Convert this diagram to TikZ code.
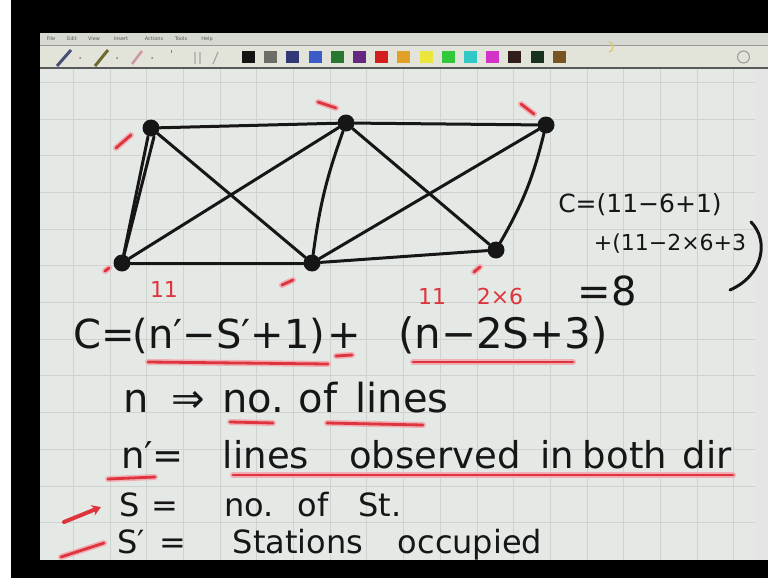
\documentclass[tikz,border=0pt]{standalone}
\usepackage{fontspec}
\setmainfont{DejaVu Sans}
\usetikzlibrary{arrows.meta}
\usetikzlibrary{calc}
\definecolor{ink}{RGB}{22,22,22}
\definecolor{redink}{RGB}{222,52,62}
\definecolor{redglow}{RGB}{240,175,180}
\definecolor{paper}{RGB}{229,233,230}
\definecolor{gridline}{RGB}{206,211,208}
\definecolor{menubar}{RGB}{214,216,210}
\definecolor{toolbar}{RGB}{227,228,217}
\newcommand{\redmark}{\draw[redline]}

\begin{document}
\begin{tikzpicture}[x=1pt, y=-1pt,
    station/.style={circle, fill=ink, inner sep=0pt, minimum size=17pt},
    leg/.style={draw=ink, line width=3pt, line cap=round},
    redline/.style={preaction={draw=redglow, line width=6pt, line cap=round},
                    draw=redink, line width=2.8pt, line cap=round},
    hw/.style={font=\fontsize{40}{40}\selectfont, text=ink, inner sep=0pt, anchor=base},
    hwline/.style={hw, font=\fontsize{37}{37}\selectfont},
    hwsmall/.style={hw, font=\fontsize{32}{32}\selectfont},
    calcnote/.style={hw, font=\fontsize{25}{25}\selectfont},
    rednote/.style={hw, text=redink, font=\fontsize{22}{22}\selectfont}]
    \useasboundingbox (0,0) rectangle (768,578);

    % Screen frame
    \fill[black] (0,0) rectangle (768,578);
    \fill[white] (0,0) rectangle (11,578);
    \fill[menubar] (40,33) rectangle (768,45);
    \fill[toolbar] (40,45) rectangle (768,68);
    \draw[gray!80] (40,45) -- (768,45);
    \draw[gray!70!black, line width=1.5pt] (40,68) -- (768,68);
    \fill[paper] (40,68.8) rectangle (755,560);
    \fill[gray!20] (755,68.8) rectangle (768,560);

    % Menu
    \foreach \x/\t [count=\i] in {51/File, 72/Edit, 94/View, 121/Insert, 154/Actions, 181/Tools, 207/Help}
        \node[font=\fontsize{5}{5}\selectfont, text=gray!70!black, inner sep=0pt, name=menu\i] at (\x,39) {\t};

    % Pens and tools
    \definecolor{penA}{RGB}{70,80,115}
    \definecolor{penB}{RGB}{110,105,45}
    \definecolor{penC}{RGB}{205,150,160}
    \draw[line width=3pt, penA] (57,66) -- (71,50);
    \draw[line width=3pt, penB] (95,66) -- (108,50);
    \draw[line width=2.5pt, penC] (132,64) -- (142,51);
    \foreach \x in {80,117,152}
        \fill[gray] (\x,58) circle (1pt);
    \draw[gray, line width=1pt] (171,50) -- (171,53);
    \draw[gray!70, line width=1.2pt] (195,52) -- (195,64) (200,52) -- (200,64) (213,64) -- (218,52);
    \foreach \r/\g/\b [count=\i from 0] in {20/20/20, 110/110/105, 50/55/120, 60/90/200, 40/120/50,
        100/40/130, 210/30/30, 225/160/40, 235/230/60, 50/200/60, 50/200/200, 210/50/200,
        50/30/25, 25/50/30, 120/85/35} {
        \definecolor{swatch}{RGB}{\r,\g,\b}
        \fill[swatch] ({242+22.2*\i},51) rectangle ++(13,12);
    }
    \definecolor{lasso}{RGB}{215,205,120}
    \draw[lasso, line width=1.5pt] (609,52) arc (90:-90:4 and 5);
    \draw[gray!80, line width=1pt] (743.5,57) circle (6);

    % Draw grid
    \foreach \i in {1,...,19}
        \draw[gridline] ({36.3+36.7*\i},69) -- ({36.3+36.7*\i},560);
    \foreach \j in {0,...,12}
        \draw[gridline] (40,{82+36.7*\j}) -- (755,{82+36.7*\j});

    % Draw stations
    \node[station] (A) at (151,128) {};
    \node[station] (B) at (346,123) {};
    \node[station] (C) at (546,125) {};
    \node[station] (D) at (122,263) {};
    \node[station] (E) at (312,263) {};
    \node[station] (F) at (496,250) {};

    % Draw lines of sight
    \draw[leg] (A) -- (B);
    \draw[leg] (B) -- (C);
    \draw[leg] ([xshift=-3pt]A.south) -- (D);
    \draw[leg] ([xshift=3pt]A.south) -- (D);
    \draw[leg] (A) -- (E);
    \draw[leg] (B) -- (D);
    \draw[leg] (B) to[bend right=6] (E);
    \draw[leg] (B) -- (F);
    \draw[leg] (C) -- (E);
    \draw[leg] (C) to[bend left=8] (F);
    \draw[leg] (D) -- (E);
    \draw[leg] (E) -- (F);

    % Occupied ticks
    \redmark (116,148) -- (131,135);
    \redmark (318,102) -- (336,108);
    \redmark (521,104) -- (534,114);
    \redmark (282,285) -- (293,280);
    \redmark (474,272) -- (480,267);
    \redmark (105,271) -- (109,268);

    % Condition equation
    \node[rednote] (r1) at (164,297) {11};
    \node[rednote] (r2) at (432,304) {11};
    \node[rednote] (r3) at (500,304) {2×6};
    \node[hw] (eqa) at (104,348) {C=};
    \node[hw] (eqb) at (229,348) {(n′−S′+1)};
    \node[hw] (eqc) at (344,348) {+};
    \node[hw, font=\fontsize{42}{42}\selectfont] (eqd) at (503,348) {(n−2S+3)};
    \node[hw] (res) at (607,305) {=8};
    \redmark (148,362) -- (328,364);
    \redmark (336,356) -- (352,355);
    \redmark (413,362) -- (573,362);

    % Worked values
    \node[calcnote] (cw1) at (640,212) {C=(11−6+1)};
    \node[calcnote, font=\fontsize{22}{22}\selectfont] (cw2) at (670,250) {+(11−2×6+3};
    \draw[ink, line width=3pt, line cap=round] (751,222) .. controls (769,240) and (764,275) .. (730,290);

    % Definitions
    \foreach \x/\t [count=\i] in {136/n, 188/⇒, 253/no., 318/of, 402/lines}
        \node[hw, name=da\i] at (\x,412) {\t};
    \foreach \x/\t [count=\i] in {137/n′, 168/=, 266/lines, 435/observed, 557/in, 625/both, 707/dir}
        \node[hwline, name=db\i] at (\x,468) {\t};
    \foreach \x/\t [count=\i] in {130/S, 165/=, 249/no., 313/of, 380/St.}
        \node[hwsmall, name=dc\i] at (\x,516) {\t};
    \foreach \x/\t [count=\i] in {131/S′, 173/=, 298/Stations, 470/occupied}
        \node[hwsmall, name=dd\i] at (\x,553) {\t};
    \redmark (230,422) -- (273,423);
    \redmark (327,423) -- (423,425);
    \redmark (108,479) -- (155,477);
    \redmark (233,475) -- (733,475);
    \draw[redink, line width=4pt, line cap=round, -{Stealth[length=9pt, width=11pt]}] (64,522) -- (101,507);
    \redmark (61,557) -- (104,543);
\end{tikzpicture}
\end{document}
